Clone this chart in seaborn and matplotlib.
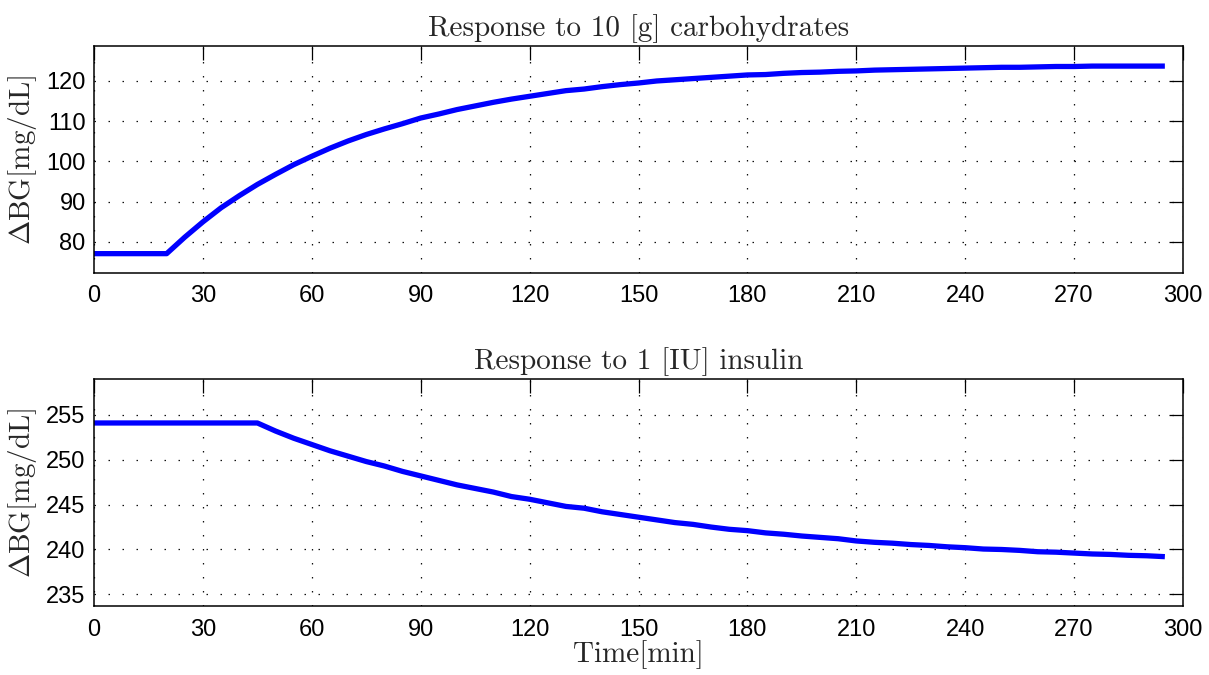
import numpy as np
import pandas as pd
import matplotlib
matplotlib.use("Agg")
import matplotlib.pyplot as plt
import seaborn as sns

# ---- data ----
time_min = list(range(0, 300, 5))

carb_response = [77.1, 77.1, 77.1, 77.1, 77.1, 81.2, 85.0, 88.5, 91.5, 94.3,
                 96.8, 99.2, 101.3, 103.3, 105.1, 106.7, 108.1, 109.4, 110.8, 111.8,
                 112.9, 113.8, 114.7, 115.5, 116.2, 116.9, 117.6, 118.0, 118.6, 119.1,
                 119.5, 120.0, 120.3, 120.6, 120.9, 121.2, 121.5, 121.6, 121.9, 122.1,
                 122.2, 122.4, 122.5, 122.7, 122.8, 122.9, 123.0, 123.1, 123.2, 123.3,
                 123.4, 123.4, 123.5, 123.6, 123.6, 123.7, 123.7, 123.7, 123.7, 123.7]

insulin_response = [254.1, 254.1, 254.1, 254.1, 254.1, 254.1, 254.1, 254.1, 254.1, 254.1,
                    253.2, 252.4, 251.7, 251.0, 250.4, 249.8, 249.3, 248.7, 248.2, 247.7,
                    247.2, 246.8, 246.4, 245.9, 245.6, 245.2, 244.8, 244.6, 244.2, 243.9,
                    243.6, 243.3, 243.0, 242.8, 242.5, 242.25, 242.1, 241.85, 241.7, 241.5,
                    241.35, 241.2, 240.95, 240.8, 240.7, 240.55, 240.45, 240.3, 240.2, 240.05,
                    240.0, 239.9, 239.75, 239.7, 239.6, 239.5, 239.45, 239.35, 239.3, 239.2]

x_ticks = [0, 30, 60, 90, 120, 150, 180, 210, 240, 270, 300]
carb_yticks = [80, 90, 100, 110, 120]
insulin_yticks = [235, 240, 245, 250, 255]

titles = ["Response to 10 [g] carbohydrates", "Response to 1 [IU] insulin"]
ylabel = r"$\Delta$BG[mg/dL]"
xlabel = "Time[min]"

df_carb = pd.DataFrame({"t": time_min, "dbg": carb_response})
df_ins = pd.DataFrame({"t": time_min, "dbg": insulin_response})

# ---- style ----
sns.set_style("white")
plt.rcParams["mathtext.fontset"] = "cm"
plt.rcParams["font.family"] = ["Liberation Sans", "DejaVu Sans"]
plt.rcParams["axes.unicode_minus"] = False

fig = plt.figure(figsize=(12.09, 6.75), dpi=100)
ax1 = fig.add_axes([0.0778, 0.5956, 0.9007, 0.3363])
ax2 = fig.add_axes([0.0778, 0.1022, 0.9007, 0.3363])

serif = dict(family="cmr10", fontsize=21)

for ax, df, yt, ylim, title in [
    (ax1, df_carb, carb_yticks, (72.3, 128.7), titles[0]),
    (ax2, df_ins, insulin_yticks, (233.7, 259.0), titles[1]),
]:
    sns.lineplot(data=df, x="t", y="dbg", ax=ax, color="#0000ff", linewidth=3.8,
                 solid_joinstyle="round", solid_capstyle="butt")
    ax.set_xlim(0, 300)
    ax.set_ylim(*ylim)
    ax.set_xticks(x_ticks)
    ax.set_yticks(yt)
    ax.grid(True, color="#111111", linewidth=0.9, linestyle=(0, (1.2, 10)))
    ax.tick_params(direction="in", top=True, right=True, length=10, width=0.9,
                   labelsize=17, colors="black")
    ax.tick_params(axis="x", pad=9)
    ax.tick_params(axis="y", pad=6)
    for s in ax.spines.values():
        s.set_visible(True)
        s.set_color("black")
        s.set_linewidth(1.1)
    ax.set_title(title, pad=7, **serif)
    ax.set_ylabel(ylabel, labelpad=5, **serif)
    ax.set_xlabel("")

ax2.set_xlabel(xlabel, labelpad=0, **serif)

fig.savefig("out.png", dpi=100)
